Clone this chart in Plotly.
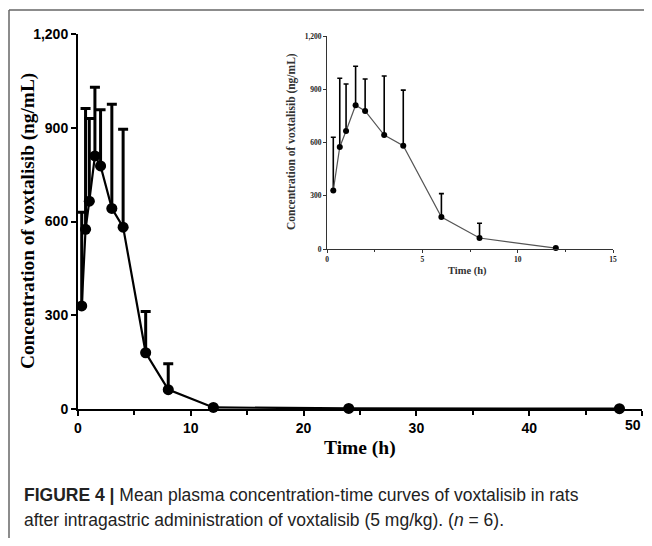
import plotly.graph_objects as go

# Data
time_h = [0.33, 0.67, 1, 1.5, 2, 3, 4, 6, 8, 12, 24, 48]
conc_mean = [330, 575, 665, 810, 778, 642, 582, 180, 62, 5, 2, 1]
conc_sd = [300, 387, 265, 220, 180, 333, 313, 132, 83, 0, 0, 0]

inset_time = time_h[:10]
inset_mean = conc_mean[:10]
inset_sd = conc_sd[:10]

x_ticks = [0, 10, 20, 30, 40, 50]
x_ticklabels = ["0", "10", "20", "30", "40", "50"]

OFF = 8  # page body margin
W, H = 652 - OFF, 546 - 2 * OFF


def px_x(x):
    return (x - OFF) / W


def px_y(y):
    return 1 - (y - OFF) / H


fig = go.Figure()

# Main plot
fig.add_trace(go.Scatter(
    x=time_h, y=conc_mean, mode="lines+markers",
    line=dict(color="black", width=2.2),
    marker=dict(color="black", size=11),
    error_y=dict(type="data", symmetric=False, array=conc_sd,
                 arrayminus=[0] * len(conc_sd), color="black",
                 thickness=3, width=5),
    cliponaxis=False, showlegend=False, xaxis="x", yaxis="y",
))

# Inset
fig.add_trace(go.Scatter(
    x=inset_time, y=inset_mean, mode="lines+markers",
    line=dict(color="#555555", width=1.2),
    marker=dict(color="black", size=6),
    error_y=dict(type="data", symmetric=False, array=inset_sd,
                 arrayminus=[0] * len(inset_sd), color="black",
                 thickness=1.6, width=2.5),
    cliponaxis=False, showlegend=False, xaxis="x2", yaxis="y2",
))

SERIF = "Liberation Serif, Times New Roman"
main_tick_font = dict(family="Liberation Sans, Arial", size=14, color="black", weight="bold")
inset_tick_font = dict(family=SERIF, size=7.5, color="#222", weight="bold")

# last x tick label drawn as an annotation, pulled in so it is not cut at the edge
main_ticktext = x_ticklabels[:-1] + [""]

fig.update_layout(
    width=W, height=H,
    margin=dict(l=0, r=0, t=0, b=0),
    paper_bgcolor="white", plot_bgcolor="rgba(0,0,0,0)",
    xaxis=dict(
        domain=[px_x(78), px_x(642)], range=[0, 50], anchor="y", automargin=False,
        tickmode="array", tickvals=x_ticks, ticktext=main_ticktext,
        showline=True, linecolor="black", linewidth=2,
        ticks="outside", ticklen=5, tickwidth=2, tickcolor="black",
        minor=dict(ticks="outside", dtick=5, tick0=0, ticklen=4, tickwidth=2, tickcolor="black"),
        showgrid=False, zeroline=False,
        tickfont=main_tick_font,
    ),
    yaxis=dict(
        domain=[px_y(409), px_y(34)], range=[0, 1200], anchor="x", automargin=False,
        tickmode="linear", tick0=0, dtick=300, tickformat=",",
        showline=True, linecolor="black", linewidth=2,
        ticks="outside", ticklen=5, tickwidth=2, tickcolor="black",
        showgrid=False, zeroline=False,
        tickfont=main_tick_font,
    ),
    xaxis2=dict(
        domain=[px_x(327), px_x(613)], range=[0, 15], anchor="y2", automargin=False,
        tickmode="linear", tick0=0, dtick=5,
        showline=True, linecolor="#333", linewidth=1,
        ticks="outside", ticklen=3, tickwidth=1, tickcolor="#333",
        minor=dict(ticks="outside", dtick=2.5, tick0=0, ticklen=2, tickwidth=1, tickcolor="#333"),
        showgrid=False, zeroline=False,
        tickfont=inset_tick_font,
    ),
    yaxis2=dict(
        domain=[px_y(249), px_y(36)], range=[0, 1200], anchor="x2", automargin=False,
        tickmode="linear", tick0=0, dtick=300, tickformat=",",
        showline=True, linecolor="#333", linewidth=1,
        ticks="outside", ticklen=3, tickwidth=1, tickcolor="#333",
        showgrid=False, zeroline=False,
        tickfont=inset_tick_font,
    ),
    shapes=[
        dict(type="line", xref="paper", yref="paper", x0=px_x(9), x1=1.0,
             y0=px_y(10), y1=px_y(10), line=dict(color="#666", width=1.5)),
        dict(type="line", xref="paper", yref="paper", x0=px_x(9), x1=px_x(9),
             y0=0, y1=px_y(10), line=dict(color="#666", width=1.5)),
    ],
    annotations=[
        # last main x tick label
        dict(text="<b>" + x_ticklabels[-1] + "</b>",
             xref="paper", yref="paper", x=px_x(643), y=px_y(425),
             xanchor="right", yanchor="middle", showarrow=False,
             font=dict(family="Liberation Sans, Arial", size=14, color="black")),
        # axis titles
        dict(text="<b>Concentration of voxtalisib (ng/mL)</b>", textangle=-90,
             xref="paper", yref="paper", x=px_x(28), y=px_y(221),
             xanchor="center", yanchor="middle", showarrow=False,
             font=dict(family=SERIF, size=19.3, color="black")),
        dict(text="<b>Time (h)</b>",
             xref="paper", yref="paper", x=px_x(360), y=px_y(448),
             xanchor="center", yanchor="middle", showarrow=False,
             font=dict(family=SERIF, size=19.5, color="black")),
        dict(text="<b>Concentration of voxtalisib (ng/mL)</b>", textangle=-90,
             xref="paper", yref="paper", x=px_x(292), y=px_y(142),
             xanchor="center", yanchor="middle", showarrow=False,
             font=dict(family=SERIF, size=11.5, color="#333")),
        dict(text="<b>Time (h)</b>",
             xref="paper", yref="paper", x=px_x(467), y=px_y(271),
             xanchor="center", yanchor="middle", showarrow=False,
             font=dict(family=SERIF, size=10.5, color="#333")),
        # caption
        dict(text="<b>FIGURE 4 |</b> Mean plasma concentration-time curves of voxtalisib in rats",
             xref="paper", yref="paper", x=px_x(22), y=px_y(495),
             xanchor="left", yanchor="middle", showarrow=False,
             font=dict(family="Liberation Sans, Arial", size=17.5, color="#222")),
        dict(text="after intragastric administration of voxtalisib (5 mg/kg). (<i>n</i> = 6).",
             xref="paper", yref="paper", x=px_x(22), y=px_y(520),
             xanchor="left", yanchor="middle", showarrow=False,
             font=dict(family="Liberation Sans, Arial", size=17.5, color="#222")),
    ],
)

fig.write_html("out.html")
